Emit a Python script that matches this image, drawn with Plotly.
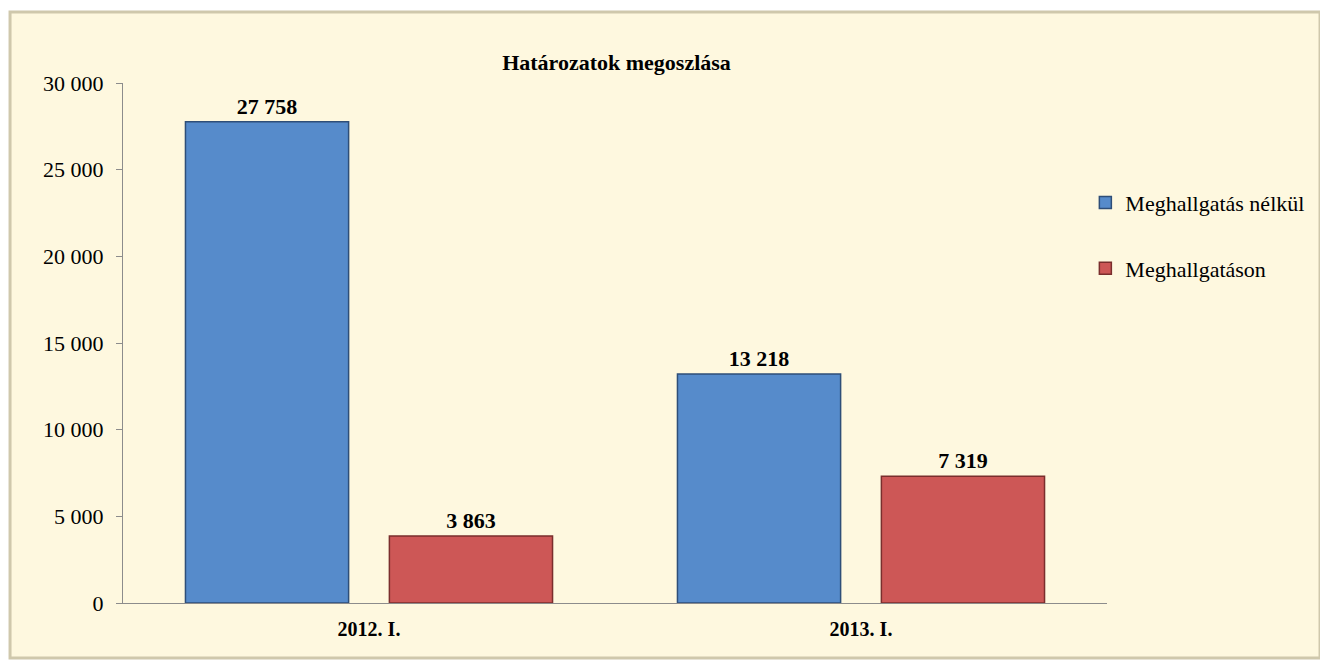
import plotly.graph_objects as go

categories = ["<b>2012. I.</b>", "<b>2013. I.</b>"]
series_names = ["Meghallgatás nélkül", "Meghallgatáson"]
no_hearing = [27758, 13218]
hearing = [3863, 7319]
colors = ["#568BCB", "#CD5756"]
edge_colors = ["#2E4E78", "#7A2E2D"]


def fmt(v):
    return "<b>" + f"{v:,}".replace(",", " ") + "</b>"


fig = go.Figure()
for i, (name, vals) in enumerate(zip(series_names, [no_hearing, hearing])):
    fig.add_trace(go.Bar(
        x=categories, y=vals, name=name,
        marker=dict(color=colors[i], line=dict(color=edge_colors[i], width=1.5)),
        text=[fmt(v) for v in vals], textposition="outside",
        textfont=dict(family="Liberation Serif", size=22, color="black"),
        cliponaxis=False, legendgroup=name,
    ))

# cream chart frame
fig.add_shape(type="rect", xref="paper", yref="paper",
              x0=-0.1148, x1=1.2165, y0=-0.1058, y1=1.1365,
              fillcolor="#FEF8DF", line=dict(color="#CFC8AC", width=3),
              layer="below")

# page body has an 8px margin, so the figure is a bit smaller / shifted
fig.update_layout(
    width=1320, height=657,
    margin=dict(l=115, r=221, t=75, b=62),
    paper_bgcolor="white", plot_bgcolor="rgba(0,0,0,0)",
    font=dict(family="Liberation Serif", size=22, color="black"),
    separators=". ",
    bargap=0.171, bargroupgap=0.2,
    showlegend=True,
    legend=dict(x=0.978, y=0.81, xanchor="left", yanchor="top",
                font=dict(size=22), tracegroupgap=34,
                bgcolor="rgba(0,0,0,0)"),
    title=dict(text="<b>Határozatok megoszlása</b>", x=0.461, xanchor="center",
               y=0.918, yanchor="middle", font=dict(size=22)),
)
fig.update_yaxes(range=[0, 30000], dtick=5000, tickformat=",d",
                 showgrid=False, showline=True, linecolor="#8C8C8C",
                 ticks="outside", ticklen=6, tickcolor="#8C8C8C",
                 tickfont=dict(size=22), ticklabelstandoff=8, zeroline=False)
fig.update_xaxes(showline=True, linecolor="#8C8C8C", ticks="",
                 tickfont=dict(size=20), ticklabelstandoff=8)

fig.write_html("out.html")
